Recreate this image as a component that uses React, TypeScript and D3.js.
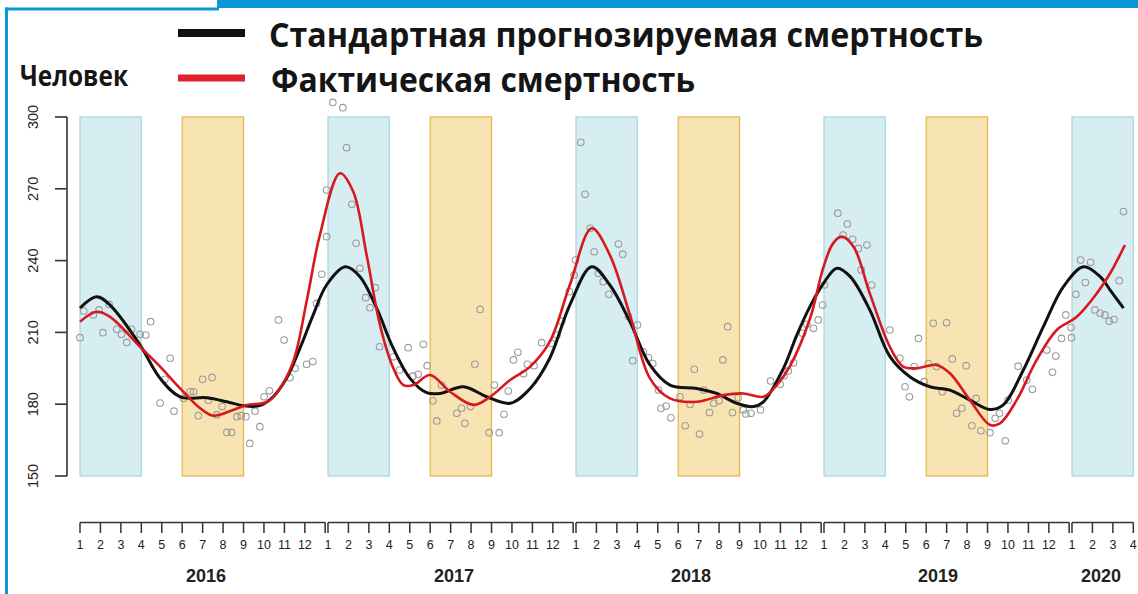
import React from "react";
import * as d3 from "d3";

// ---- data (x in weeks since 1 Jan 2016, y in persons) ----
const expectedWeeks = [0, 3.5, 6.3, 12.6, 16.8, 21.0, 26.6, 30.8, 34.2, 37.7, 40.5, 43.3, 46.1, 48.9, 51.7, 55.6, 58.7, 62.2, 65.7, 69.2, 72.7, 75.5, 80.4, 85.3, 90.2, 94.4, 98.5, 102.7, 107.3, 111.1, 115.3, 119.5, 123.7, 129.3, 133.5, 137.7, 141.2, 143.3, 147.5, 150.3, 153.1, 155.9, 158.7, 161.5, 165.6, 169.8, 174.0, 178.2, 182.4, 186.6, 190.8, 193.6, 197.8, 202.0, 206.2, 210.4, 213.9, 216.0, 218.8];
const expectedValues = [220.2, 224.9, 221.4, 204.7, 190.8, 183.1, 182.7, 181.0, 179.4, 179.4, 183.1, 190.8, 203.3, 217.3, 229.8, 237.4, 233.3, 220.1, 203.3, 190.8, 184.8, 184.5, 187.3, 183.1, 180.4, 186.6, 199.2, 221.4, 237.4, 229.8, 214.5, 196.4, 188.0, 186.6, 184.5, 180.4, 179.0, 181.0, 195.0, 208.9, 221.0, 230.5, 236.8, 233.3, 219.4, 200.0, 191.5, 187.3, 185.9, 181.7, 177.8, 179.7, 194.3, 212.4, 229.1, 237.4, 233.3, 227.7, 220.1];

const actualWeeks = [0, 3.5, 6.3, 12.6, 16.8, 21.0, 25.2, 28.0, 32.1, 35.0, 39.1, 41.2, 44.7, 47.5, 50.3, 54.5, 57.3, 60.1, 62.9, 65.7, 67.8, 69.9, 73.4, 77.6, 82.5, 86.0, 90.2, 94.4, 98.5, 102.7, 107.3, 111.1, 115.3, 119.5, 123.7, 129.3, 134.9, 139.1, 143.3, 146.1, 148.9, 153.1, 155.9, 157.9, 159.7, 162.2, 165.6, 169.8, 172.6, 175.4, 179.6, 182.4, 186.6, 190.8, 192.9, 196.4, 200.6, 204.8, 209.0, 213.2, 216.0, 219.1];
const actualValues = [214.5, 218.6, 216.5, 204.0, 195.7, 186.6, 178.3, 175.2, 177.6, 179.7, 180.8, 184.5, 197.8, 222.8, 250.7, 276.5, 268.8, 242.3, 213.1, 195.0, 188.0, 188.0, 192.2, 185.2, 179.7, 183.1, 190.1, 195.7, 206.1, 229.8, 253.5, 242.3, 217.3, 190.8, 182.4, 181.0, 183.8, 184.5, 183.1, 188.0, 196.0, 216.0, 237.4, 247.2, 250.0, 245.8, 226.3, 204.0, 195.7, 195.0, 196.4, 192.9, 181.7, 171.3, 172.0, 181.7, 198.5, 211.0, 216.5, 226.3, 234.7, 246.5];

const obsWeeks = [0, 0.8, 2.8, 4.0, 4.8, 6.1, 7.7, 8.7, 9.8, 10.8, 12.6, 13.8, 14.8, 16.8, 17.8, 18.9, 19.7, 21.7, 23.1, 23.8, 24.8, 25.7, 26.9, 27.7, 28.7, 29.8, 30.8, 31.8, 32.9, 33.8, 34.8, 35.6, 36.7, 37.7, 38.6, 39.7, 41.6, 42.8, 44.0, 45.1, 47.5, 48.8, 49.6, 50.7, 51.7, 51.7, 53.0, 55.1, 55.9, 57.0, 57.9, 58.7, 59.9, 60.8, 61.9, 62.8, 65.7, 67.0, 68.8, 69.8, 70.9, 72.0, 72.8, 74.0, 74.8, 75.8, 79.0, 80.0, 80.7, 81.9, 82.8, 83.9, 85.8, 86.9, 87.9, 88.9, 89.8, 90.9, 91.8, 93.0, 93.8, 95.2, 96.8, 98.9, 100.0, 101.0, 102.6, 103.6, 103.9, 105.0, 105.9, 107.0, 107.8, 108.7, 109.7, 110.9, 112.9, 113.8, 115.0, 115.9, 116.9, 118.1, 119.2, 120.1, 121.3, 121.8, 122.9, 123.9, 125.8, 126.9, 127.9, 128.8, 129.9, 130.8, 132.0, 132.9, 134.0, 134.8, 135.8, 136.8, 138.0, 139.1, 139.6, 140.7, 142.7, 144.8, 146.8, 147.6, 148.5, 149.6, 151.5, 152.4, 153.8, 154.8, 155.7, 156.1, 158.9, 160.0, 160.9, 162.0, 163.2, 163.8, 165.0, 166.0, 169.8, 171.9, 173.0, 173.9, 174.9, 175.8, 177.0, 177.9, 178.9, 179.6, 180.8, 181.7, 182.9, 183.8, 184.9, 185.8, 187.0, 187.9, 188.9, 190.8, 191.9, 192.8, 194.0, 194.6, 196.7, 198.5, 199.7, 202.7, 203.9, 204.6, 205.8, 206.7, 207.8, 207.9, 208.8, 209.8, 210.8, 211.9, 212.8, 213.9, 214.9, 215.8, 216.8, 217.9, 218.8];
const obsValues = [207.8, 218.9, 217.3, 219.4, 209.9, 221.7, 211.3, 209.2, 205.8, 211.3, 209.2, 208.9, 214.5, 180.5, 190.4, 199.2, 177.1, 182.4, 185.2, 185.2, 175.2, 190.4, 181.7, 191.2, 175.5, 179.0, 168.2, 168.2, 174.8, 175.2, 174.8, 163.6, 177.1, 170.6, 183.1, 185.6, 215.2, 206.8, 191.1, 195.0, 196.7, 197.8, 222.1, 234.3, 250.0, 269.5, 306.1, 303.9, 287.2, 263.5, 247.2, 236.8, 224.5, 220.3, 228.7, 204.0, 199.8, 194.3, 203.6, 191.7, 192.5, 205.0, 196.1, 181.4, 173.0, 188.0, 176.2, 178.3, 172.0, 179.0, 196.7, 219.6, 168.1, 188.0, 168.1, 175.8, 185.5, 198.5, 201.7, 192.7, 196.7, 196.1, 205.7, 205.4, 208.9, 214.7, 227.0, 234.0, 240.2, 289.4, 267.7, 253.5, 243.7, 234.7, 231.2, 225.9, 246.9, 242.7, 216.6, 198.2, 213.1, 201.9, 199.4, 197.0, 185.9, 178.3, 179.2, 174.3, 183.1, 171.0, 179.9, 194.6, 167.5, 185.9, 176.5, 180.4, 181.4, 198.5, 212.4, 176.5, 182.7, 177.6, 175.9, 176.2, 177.6, 189.7, 188.3, 191.9, 193.9, 197.3, 209.6, 213.4, 211.7, 215.2, 221.4, 229.8, 259.8, 250.7, 255.3, 248.9, 245.1, 236.1, 246.5, 229.8, 211.0, 199.2, 187.3, 183.1, 195.7, 207.5, 189.4, 197.0, 213.8, 195.7, 185.2, 214.0, 198.9, 176.2, 178.3, 196.1, 171.0, 182.4, 168.9, 168.1, 174.1, 176.2, 164.7, 181.7, 195.9, 190.1, 186.2, 202.6, 193.3, 200.1, 207.5, 217.3, 212.0, 207.8, 225.9, 240.2, 230.8, 239.3, 219.4, 218.0, 217.3, 214.7, 215.4, 231.6, 260.5];

const yTicks = [150, 180, 210, 240, 270, 300];
const years = ["2016", "2017", "2018", "2019", "2020"];
const monthsPerYear = [12, 12, 12, 12, 4];
const yearLabelOffsetWeeks = [26.4, 26.4, 24.1, 23.9, 6.1];
const winterYears = [0, 1, 2, 3, 4];
const summerYears = [0, 1, 2, 3];
const winterMonths = [1, 4];
const summerMonths = [6, 9];

const legendLabels = ["Стандартная прогнозируемая смертность", "Фактическая смертность"];
const yTitle = "Человек";

// ---- layout ----
const W = 1138;
const H = 594;
const WEEKS_PER_YEAR = 52;
const monthWeek = (yi: number, m: number) => yi * WEEKS_PER_YEAR + (m - 1) * (30 / 7);
const yearEndWeek = (yi: number) => yi * WEEKS_PER_YEAR + 51.4;

const x = d3.scaleLinear().domain([0, 260]).range([80, 80 + 248 * 5]);
const y = d3.scaleLinear().domain([150, 300]).range([476, 117]);

const BLUE = "#0a97d8";

export default function App() {
  const line = d3
    .line<[number, number]>()
    .x((d) => x(d[0]))
    .y((d) => y(d[1]))
    .curve(d3.curveCatmullRom.alpha(0.5));

  const expPath = line(expectedWeeks.map((w, i) => [w, expectedValues[i]]) as [number, number][]) || "";
  const actPath = line(actualWeeks.map((w, i) => [w, actualValues[i]]) as [number, number][]) || "";

  const axisY = 522.5;
  const tickLen = 10.5;

  return (
    <svg
      width={W}
      height={H}
      viewBox={`0 0 ${W} ${H}`}
      style={{ position: "absolute", left: 0, top: 0, background: "#fff" }}
    >
      <rect x={0} y={0} width={W} height={H} fill="#fff" />
      {/* frame */}
      <rect x={217} y={0} width={W - 217} height={8} fill={BLUE} />
      <rect x={5} y={7.5} width={214} height={3} fill={BLUE} />
      <rect x={5} y={7.5} width={3} height={H - 7.5} fill={BLUE} />

      {/* seasonal bands */}
      {winterYears.map((yi) => (
        <rect
          key={"w" + yi}
          x={x(monthWeek(yi, winterMonths[0]))}
          y={y(300)}
          width={x(monthWeek(yi, winterMonths[1])) - x(monthWeek(yi, winterMonths[0]))}
          height={y(150) - y(300)}
          fill="#d6edf2"
          stroke="#a6d6de"
          strokeWidth={1.2}
        />
      ))}
      {summerYears.map((yi) => (
        <rect
          key={"s" + yi}
          x={x(monthWeek(yi, summerMonths[0]))}
          y={y(300)}
          width={x(monthWeek(yi, summerMonths[1])) - x(monthWeek(yi, summerMonths[0]))}
          height={y(150) - y(300)}
          fill="#f8e3b3"
          stroke="#e0b743"
          strokeWidth={1.2}
        />
      ))}

      {/* observations */}
      {obsWeeks.map((w, i) => (
        <circle
          key={"p" + i}
          cx={x(w)}
          cy={y(obsValues[i])}
          r={3.3}
          fill="none"
          stroke="#9c9c9c"
          strokeWidth={1.1}
        />
      ))}

      {/* curves */}
      <path d={expPath} fill="none" stroke="#111" strokeWidth={3} strokeLinejoin="round" />
      <path d={actPath} fill="none" stroke="#d7191f" strokeWidth={2.6} strokeLinejoin="round" />

      {/* y axis */}
      <g stroke="#333" strokeWidth={1.6} fill="none">
        <line x1={67} x2={67} y1={y(150)} y2={y(300)} />
        {yTicks.map((t) => (
          <line key={t} x1={55} x2={67} y1={y(t)} y2={y(t)} />
        ))}
      </g>
      {yTicks.map((t) => (
        <text
          key={"yl" + t}
          transform={`translate(38,${y(t)}) rotate(-90)`}
          textAnchor="middle"
          fontFamily="Liberation Sans, Arial, sans-serif"
          fontSize={14.5}
          fill="#222"
        >
          {t}
        </text>
      ))}

      {/* x axis (one bracket per year) */}
      {years.map((yr, yi) => {
        const months = d3.range(1, monthsPerYear[yi] + 1);
        const startX = x(monthWeek(yi, 1));
        const hasEnd = monthsPerYear[yi] === 12;
        const endX = hasEnd ? x(yearEndWeek(yi)) : x(monthWeek(yi, monthsPerYear[yi]));
        return (
          <g key={yr}>
            <g stroke="#333" strokeWidth={1.5}>
              <line x1={startX} x2={endX} y1={axisY} y2={axisY} />
              {months.map((m) => (
                <line key={m} x1={x(monthWeek(yi, m))} x2={x(monthWeek(yi, m))} y1={axisY} y2={axisY + tickLen} />
              ))}
              {hasEnd && <line x1={endX} x2={endX} y1={axisY} y2={axisY + tickLen} />}
            </g>
            {months.map((m) => (
              <text
                key={"ml" + m}
                x={x(monthWeek(yi, m))}
                y={548.5}
                textAnchor="middle"
                fontFamily="Liberation Sans, Arial, sans-serif"
                fontSize={12.5}
                fill="#222"
              >
                {m}
              </text>
            ))}
            <text
              x={x(yi * WEEKS_PER_YEAR + yearLabelOffsetWeeks[yi])}
              y={581.5}
              textAnchor="middle"
              fontFamily="Liberation Sans, Arial, sans-serif"
              fontWeight="bold"
              fontSize={18}
              fill="#222"
            >
              {yr}
            </text>
          </g>
        );
      })}

      {/* legend */}
      <line x1={178} x2={245} y1={33} y2={33} stroke="#111" strokeWidth={8} />
      <line x1={178} x2={245} y1={78} y2={78} stroke="#e0202a" strokeWidth={7} />
      <text
        x={269}
        y={46.5}
        fontFamily="Open Sans, sans-serif"
        fontWeight={700}
        fontSize={34}
        fill="#151515"
        textLength={714}
        lengthAdjust="spacingAndGlyphs"
      >
        {legendLabels[0]}
      </text>
      <text
        x={271}
        y={91.5}
        fontFamily="Open Sans, sans-serif"
        fontWeight={700}
        fontSize={34}
        fill="#151515"
        textLength={424}
        lengthAdjust="spacingAndGlyphs"
      >
        {legendLabels[1]}
      </text>
      <text
        x={20}
        y={86}
        fontFamily="Open Sans, sans-serif"
        fontWeight={700}
        fontSize={28}
        fill="#151515"
        textLength={108}
        lengthAdjust="spacingAndGlyphs"
      >
        {yTitle}
      </text>
    </svg>
  );
}
